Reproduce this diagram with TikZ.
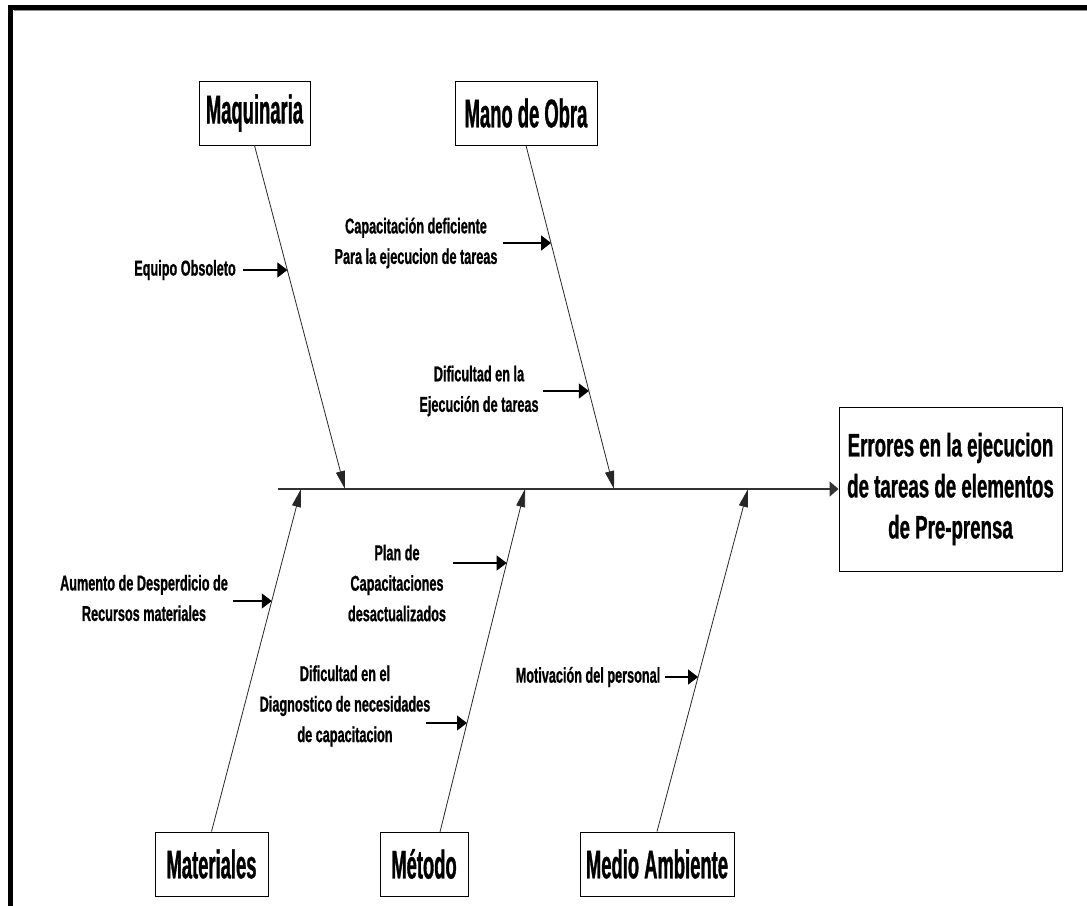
\documentclass[tikz,border=0pt]{standalone}
\usepackage{fontspec}
\setmainfont{Liberation Sans}
\newfontfamily\causefont{Liberation Sans}[FakeStretch=0.59, FakeBold=0.8]
\newfontfamily\headfont{Liberation Sans}[FakeStretch=0.46, FakeBold=0.8]
\newfontfamily\effectfont{Liberation Sans}[FakeStretch=0.575, FakeBold=0.8]
\usetikzlibrary{arrows.meta}

\begin{document}
\begin{tikzpicture}[x=1pt,y=-1pt,
  catbox/.style={draw=black, line width=0.9pt, fill=white, minimum height=64pt,
    inner sep=0pt, font=\headfont\bfseries\fontsize{40}{44}\selectfont},
  effectbox/.style={draw=black, line width=0.9pt, fill=white, align=center,
    minimum width=223pt, minimum height=164pt, inner sep=0pt,
    font=\effectfont\bfseries\fontsize{32.5}{41}\selectfont},
  cause/.style={align=center, inner sep=0pt,
    font=\causefont\bfseries\fontsize{21.5}{30.5}\selectfont},
  spine/.style={line width=1.6pt, draw=black!80, -{Triangle[length=9pt,width=15pt]}},
  bone/.style={line width=0.8pt, draw=black!85, -{Triangle[length=18pt,width=9pt]}},
  twig/.style={line width=1.1pt, draw=black, -{Triangle[length=10pt,width=15pt]}}]
\useasboundingbox (0,0) rectangle (1087,905);

% outer frame (top and left edges)
\draw[line width=5.5pt] (10.5,915) -- (10.5,7.5) -- (1095,7.5);
\draw[black!45, line width=1pt] (13.5,10.8) -- (1095,10.8);

% category boxes
\node[catbox, minimum width=111pt] (maq) at (254.5,113) {Maquinaria};
\node[catbox, minimum width=142pt] (mdo) at (526,113) {Mano de Obra};
\node[catbox, minimum width=113pt] (mat) at (211.5,864) {Materiales};
\node[catbox, minimum width=88pt] (met) at (424,864) {Método};
\node[catbox, minimum width=154pt] (mam) at (657,864) {Medio Ambiente};

% effect
\node[effectbox] (eff) at (950.5,489) {Errores en la ejecucion\\de tareas de elementos\\de Pre-prensa};

% spine
\coordinate (tail) at (278,489);
\draw[spine] (tail) -- (eff.west);

% junctions on the spine
\coordinate (jmaq) at (345,489);
\coordinate (jmdo) at (614,489);
\coordinate (jmat) at (301,489);
\coordinate (jmet) at (525,489);
\coordinate (jmam) at (748,489);
\coordinate (metfoot) at (440,832);

\draw[bone] (maq.south) -- (jmaq);
\draw[bone] (mdo.south) -- (jmdo);
\draw[bone] (mat.north) -- (jmat);
\draw[bone] (metfoot) -- (jmet);
\draw[bone] (mam.north) -- (jmam);

% causes
\node[cause] (eq) at (185,270) {Equipo Obsoleto};
\node[cause] (cap) at (416,243) {Capacitación deficiente\\Para la ejecucion de tareas};
\node[cause] (dla) at (479,391) {Dificultad en la\\Ejecución de tareas};
\node[cause] (aum) at (144,598) {Aumento de Desperdicio de\\Recursos materiales};
\node[cause] (plan) at (397,583) {Plan de\\Capacitaciones\\desactualizados};
\node[cause] (del) at (345,706) {Dificultad en el\\Diagnostico de necesidades\\de capacitacion};
\node[cause] (mot) at (588,677) {Motivación del personal};

% cause arrows: start beside each label, end on the bone
\coordinate (eqs) at (243,270);   \coordinate (eqt) at (287.4,270);
\coordinate (caps) at (503,243);  \coordinate (capt) at (551.1,243);
\coordinate (dlas) at (543,391);  \coordinate (dlat) at (588.9,391);
\coordinate (aums) at (233,601);  \coordinate (aumt) at (271.8,601);
\coordinate (plans) at (453,563); \coordinate (plant) at (506.7,563);
\coordinate (dels) at (426,723);  \coordinate (delt) at (467,723);
\coordinate (mots) at (665,677);  \coordinate (mott) at (698.1,677);

\draw[twig] (eqs) -- (eqt);
\draw[twig] (caps) -- (capt);
\draw[twig] (dlas) -- (dlat);
\draw[twig] (aums) -- (aumt);
\draw[twig] (plans) -- (plant);
\draw[twig] (dels) -- (delt);
\draw[twig] (mots) -- (mott);
\end{tikzpicture}
\end{document}
